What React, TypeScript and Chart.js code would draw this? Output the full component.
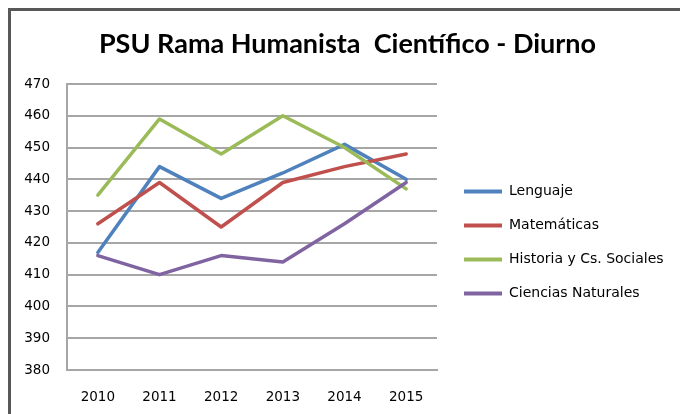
import { useEffect, useRef } from 'react';
import { Chart, registerables } from 'chart.js';

Chart.register(...registerables);

const years = ['2010', '2011', '2012', '2013', '2014', '2015'];
const lenguaje = [417, 444, 434, 442, 451, 440];
const matematicas = [426, 439, 425, 439, 444, 448];
const historia = [435, 459, 448, 460, 450, 437];
const ciencias = [416, 410, 416, 414, 426, 439];
const seriesNames = ['Lenguaje', 'Matemáticas', 'Historia y Cs. Sociales', 'Ciencias Naturales'];
const seriesColors = ['#4F81BD', '#C0504D', '#9BBB59', '#8064A2'];
const yMin = 380;
const yMax = 470;
const yStep = 10;
const titleText = 'PSU Rama Humanista  Científico - Diurno';

const W = 680;
const H = 414;

const framePlugin = {
  id: 'frame',
  beforeDraw(chart: any) {
    const ctx = chart.ctx;
    ctx.save();
    ctx.fillStyle = '#ffffff';
    ctx.fillRect(0, 0, chart.width, chart.height);
    ctx.strokeStyle = '#585858';
    ctx.lineWidth = 3;
    ctx.beginPath();
    ctx.moveTo(9.5, chart.height + 2);
    ctx.lineTo(9.5, 9.5);
    ctx.lineTo(chart.width + 2, 9.5);
    ctx.stroke();
    ctx.restore();
  },
};

export default function App() {
  const ref = useRef<HTMLCanvasElement | null>(null);

  useEffect(() => {
    if (!ref.current) return;
    const allSeries = [lenguaje, matematicas, historia, ciencias];
    const chart = new Chart(ref.current, {
      type: 'line',
      data: {
        labels: years,
        datasets: allSeries.map((vals, i) => ({
          label: seriesNames[i],
          data: vals,
          borderColor: seriesColors[i],
          backgroundColor: seriesColors[i],
          borderWidth: 3.5,
          pointRadius: 0,
          pointHoverRadius: 0,
          tension: 0,
          fill: false,
          borderJoinStyle: 'round' as const,
          borderCapStyle: 'round' as const,
          order: allSeries.length - i,
        })),
      },
      options: {
        responsive: false,
        animation: false,
        devicePixelRatio: 1,
        layout: { padding: { left: 22, right: 7, top: 0, bottom: 0 } },
        plugins: {
          tooltip: { enabled: false },
          title: {
            display: true,
            text: titleText,
            color: '#000000',
            font: { family: 'Lato', size: 27, weight: 'bold', lineHeight: 1.2 },
            padding: { top: 28.3, bottom: 23.3 },
          },
          legend: {
            display: true,
            position: 'right',
            maxWidth: 229,
            title: {
              display: true,
              text: '',
              font: { size: 12, lineHeight: 1.2 },
              padding: { top: 28.3, bottom: 28.3 },
            },
            labels: {
              boxWidth: 38,
              boxHeight: 4,
              padding: 20,
              color: '#000000',
              font: { family: 'DejaVu Sans', size: 14 },
              generateLabels: (c: any) =>
                c.data.datasets.map((ds: any, i: number) => ({
                  text: ds.label,
                  fillStyle: ds.borderColor,
                  strokeStyle: ds.borderColor,
                  lineWidth: 0,
                  hidden: false,
                  datasetIndex: i,
                  fontColor: '#000000',
                })),
            },
          },
        },
        scales: {
          x: {
            type: 'category',
            offset: true,
            grid: { display: false, drawTicks: false },
            border: { display: true, color: '#a6a6a6', width: 2 },
            ticks: {
              color: '#000000',
              font: { family: 'DejaVu Sans', size: 13.5 },
              padding: 19,
              maxRotation: 0,
            },
            afterFit: (s: any) => {
              s.height = 44;
            },
          },
          y: {
            type: 'linear',
            position: 'left',
            min: yMin,
            max: yMax,
            grid: { color: '#a6a6a6', lineWidth: 2, drawTicks: false },
            border: { display: true, color: '#a6a6a6', width: 2 },
            ticks: {
              stepSize: yStep,
              color: '#000000',
              font: { family: 'DejaVu Sans', size: 13.5 },
              padding: 17,
            },
            afterFit: (s: any) => {
              s.width = 45;
            },
          },
          y2: {
            type: 'linear',
            position: 'right',
            display: true,
            grid: { display: false, drawTicks: false },
            border: { display: false },
            ticks: { display: false },
            afterFit: (s: any) => {
              s.width = 7;
            },
          },
        },
      },
      plugins: [framePlugin],
    } as any);
    return () => chart.destroy();
  }, []);

  return (
    <div style={{ position: 'absolute', left: 0, top: 0, width: W, height: H }}>
      <canvas ref={ref} width={W} height={H} style={{ display: 'block', width: W, height: H }} />
    </div>
  );
}
